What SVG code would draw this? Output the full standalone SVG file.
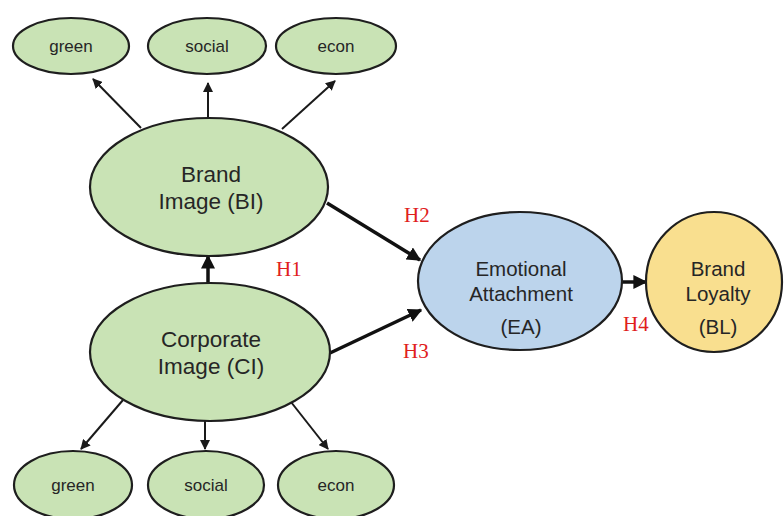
<svg xmlns="http://www.w3.org/2000/svg" width="784" height="516" viewBox="0 0 784 516">
  <defs>
    <marker id="arrowThin" viewBox="0 0 10 10" refX="9" refY="5" markerWidth="5" markerHeight="5" orient="auto" markerUnits="strokeWidth">
      <path d="M0,0 L10,5 L0,10 z" fill="#1a1a1a"/>
    </marker>
    <marker id="arrowBold" viewBox="0 0 10 10" refX="9" refY="5" markerWidth="4" markerHeight="4" orient="auto" markerUnits="strokeWidth">
      <path d="M0,0 L10,5 L0,10 z" fill="#111"/>
    </marker>
    <style>
      .green { fill: #c9e3b5; stroke: #1e1e1e; stroke-width: 2.2; }
      .blue { fill: #bcd4ec; stroke: #1e1e1e; stroke-width: 2.2; }
      .yellow { fill: #f9df8f; stroke: #1e1e1e; stroke-width: 2.2; }
      .label { font-family: "Liberation Sans", Arial, sans-serif; fill: #262626; text-anchor: middle; }
      .small { font-size: 17px; }
      .big { font-size: 22.5px; }
      .mid { font-size: 20.5px; }
      .hyp { font-family: "Liberation Serif", "Times New Roman", serif; font-size: 21px; fill: #e0201c; }
      .thin { stroke: #1a1a1a; stroke-width: 2; fill: none; marker-end: url(#arrowThin); }
      .bold { stroke: #111; stroke-width: 3.5; fill: none; marker-end: url(#arrowBold); }
    </style>
  </defs>
  <rect width="784" height="516" fill="#ffffff"/>

  <g id="connectors">
    <line class="thin" x1="141" y1="128" x2="93" y2="79"/>
    <line class="thin" x1="208" y1="117" x2="208" y2="83"/>
    <line class="thin" x1="282" y1="129" x2="335" y2="81"/>
    <line class="bold" x1="208" y1="283" x2="208" y2="256"/>
    <line class="bold" x1="327" y1="203" x2="420" y2="260"/>
    <line class="bold" x1="330" y1="353" x2="421" y2="310"/>
    <line class="bold" x1="622" y1="282" x2="646" y2="282"/>
    <line class="thin" x1="123" y1="400" x2="81" y2="449"/>
    <line class="thin" x1="205" y1="420" x2="205" y2="449"/>
    <line class="thin" x1="291" y1="402" x2="328" y2="449"/>
  </g>

  <g id="bi-green">
    <ellipse class="green" cx="71" cy="46" rx="58" ry="28"/>
    <text class="label small" x="71" y="52">green</text>
  </g>
  <g id="bi-social">
    <ellipse class="green" cx="207" cy="46" rx="59" ry="28"/>
    <text class="label small" x="207" y="52">social</text>
  </g>
  <g id="bi-econ">
    <ellipse class="green" cx="336" cy="46" rx="60" ry="28"/>
    <text class="label small" x="336" y="52">econ</text>
  </g>

  <g id="brand-image">
    <ellipse class="green" cx="209" cy="187" rx="119" ry="69"/>
    <text class="label big" x="211" y="182">Brand</text>
    <text class="label big" x="211" y="209">Image (BI)</text>
  </g>

  <g id="corporate-image">
    <ellipse class="green" cx="210" cy="352" rx="120" ry="69"/>
    <text class="label big" x="211" y="347">Corporate</text>
    <text class="label big" x="211" y="374">Image (CI)</text>
  </g>

  <g id="emotional-attachment">
    <ellipse class="blue" cx="520" cy="281" rx="102" ry="69"/>
    <text class="label mid" x="521" y="276">Emotional</text>
    <text class="label mid" x="521" y="301">Attachment</text>
    <text class="label mid" x="521" y="334">(EA)</text>
  </g>

  <g id="brand-loyalty">
    <ellipse class="yellow" cx="714" cy="282" rx="68" ry="70"/>
    <text class="label mid" x="718" y="276">Brand</text>
    <text class="label mid" x="718" y="301">Loyalty</text>
    <text class="label mid" x="718" y="334">(BL)</text>
  </g>

  <g id="ci-green">
    <ellipse class="green" cx="73" cy="485" rx="59" ry="34"/>
    <text class="label small" x="73" y="491">green</text>
  </g>
  <g id="ci-social">
    <ellipse class="green" cx="206" cy="485" rx="58" ry="34"/>
    <text class="label small" x="206" y="491">social</text>
  </g>
  <g id="ci-econ">
    <ellipse class="green" cx="336" cy="485" rx="58" ry="34"/>
    <text class="label small" x="336" y="491">econ</text>
  </g>

  <g id="hypotheses">
    <text class="hyp" x="276" y="276">H1</text>
    <text class="hyp" x="404" y="222">H2</text>
    <text class="hyp" x="403" y="358">H3</text>
    <text class="hyp" x="623" y="331">H4</text>
  </g>
</svg>
